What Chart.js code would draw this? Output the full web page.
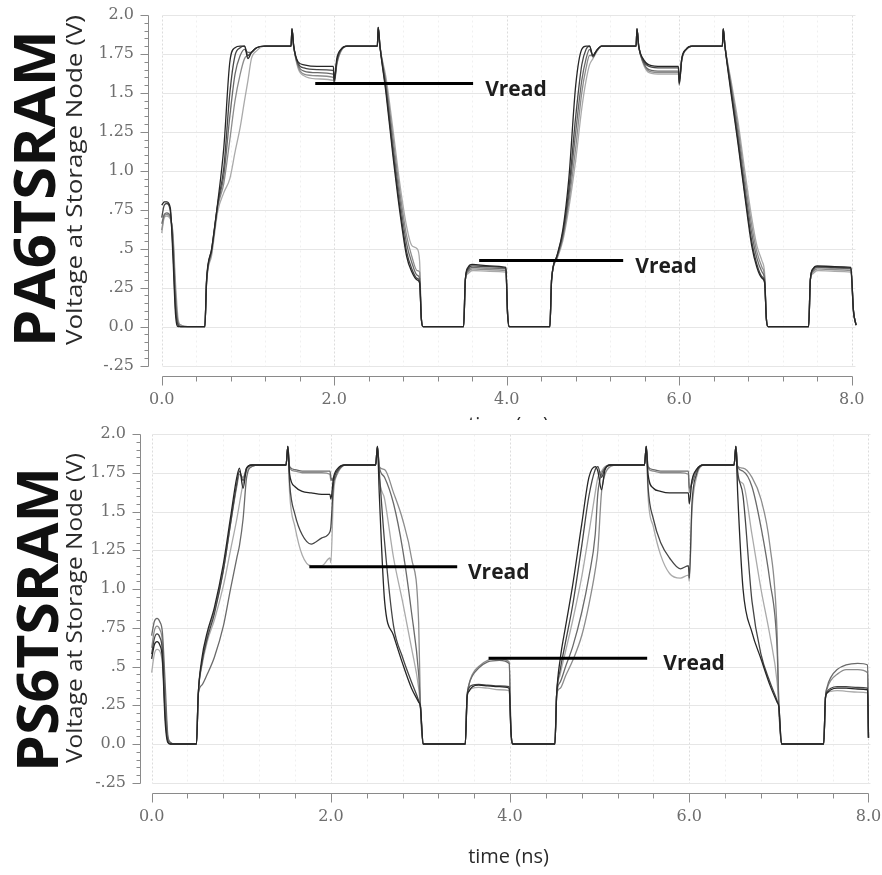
<!DOCTYPE html>
<html>
<head>
<meta charset="utf-8">
<script src="https://cdn.jsdelivr.net/npm/chart.js@4.4.1/dist/chart.umd.min.js"></script>
<style>
  html, body { margin: 0; padding: 0; background: #fff; }
  body { width: 882px; height: 875px; position: relative; overflow: hidden; }
  canvas { position: absolute; left: 0; background: #fff; }
  #topChart { top: 0; }
  #bottomChart { top: 420px; }
</style>
</head>
<body>
<canvas id="topChart" width="882" height="440"></canvas>
<canvas id="bottomChart" width="882" height="455"></canvas>
<script>
// ---- axis ticks (both panels) ----
var yTickValues = [-0.25, 0, 0.25, 0.5, 0.75, 1.0, 1.25, 1.5, 1.75, 2.0];
var yTickLabels = ['-.25', '0.0', '.25', '.5', '.75', '1.0', '1.25', '1.5', '1.75', '2.0'];
var xTickValues = [0, 2, 4, 6, 8];
var xTickLabels = ['0.0', '2.0', '4.0', '6.0', '8.0'];

// ---- PA6TSRAM (top panel), time in ns, voltage in V ----
var paTime = [
  0, 0.03, 0.06, 0.1, 0.13, 0.16, 0.19, 0.22, 0.3, 0.5,
  0.52, 0.58, 0.65, 0.72, 0.79, 0.85, 0.91, 0.96, 1.0, 1.04, 1.1, 1.2,
  1.5, 1.51, 1.53, 1.58, 1.65, 1.8, 1.99, 2.0, 2.03, 2.08, 2.15,
  2.5, 2.51, 2.53, 2.6, 2.68, 2.76, 2.84, 2.9, 2.96, 2.99, 3.01, 3.03,
  3.5, 3.52, 3.55, 3.6, 3.8, 3.99, 4.01, 4.03,
  4.5, 4.52, 4.58, 4.65, 4.72, 4.8, 4.87, 4.92, 4.96, 5.0, 5.04, 5.1,
  5.5, 5.51, 5.53, 5.58, 5.65, 5.8, 5.99, 6.0, 6.03, 6.08, 6.15,
  6.5, 6.51, 6.53, 6.6, 6.68, 6.76, 6.84, 6.9, 6.96, 6.99, 7.01, 7.03,
  7.5, 7.52, 7.55, 7.6, 7.8, 7.99, 8.02, 8.05
];
var pa1 = [
  0.78, 0.80, 0.80, 0.76, 0.45, 0.08, 0.0, 0.0, 0.0, 0.0,
  0.30, 0.50, 0.80, 1.15, 1.70, 1.79, 1.80, 1.80, 1.72, 1.76, 1.79, 1.80,
  1.80, 1.91, 1.80, 1.70, 1.68, 1.67, 1.67, 1.58, 1.72, 1.78, 1.80,
  1.80, 1.92, 1.80, 1.50, 1.10, 0.74, 0.45, 0.35, 0.30, 0.28, 0.05, 0.0,
  0.0, 0.30, 0.38, 0.40, 0.39, 0.38, 0.08, 0.0,
  0.0, 0.30, 0.45, 0.62, 0.95, 1.55, 1.78, 1.80, 1.80, 1.74, 1.77, 1.80,
  1.80, 1.91, 1.80, 1.72, 1.68, 1.67, 1.67, 1.56, 1.72, 1.78, 1.80,
  1.80, 1.91, 1.80, 1.50, 1.18, 0.84, 0.52, 0.38, 0.31, 0.28, 0.05, 0.0,
  0.0, 0.30, 0.37, 0.39, 0.385, 0.38, 0.10, 0.01
];
var pa2 = [
  0.70, 0.78, 0.79, 0.74, 0.50, 0.12, 0.01, 0.0, 0.0, 0.0,
  0.29, 0.50, 0.79, 1.02, 1.50, 1.74, 1.79, 1.80, 1.74, 1.76, 1.79, 1.80,
  1.80, 1.91, 1.80, 1.69, 1.66, 1.65, 1.645, 1.57, 1.70, 1.78, 1.80,
  1.80, 1.92, 1.80, 1.52, 1.13, 0.77, 0.48, 0.37, 0.31, 0.29, 0.05, 0.0,
  0.0, 0.30, 0.37, 0.39, 0.385, 0.375, 0.08, 0.0,
  0.0, 0.30, 0.45, 0.60, 0.88, 1.35, 1.68, 1.78, 1.80, 1.73, 1.77, 1.80,
  1.80, 1.91, 1.80, 1.71, 1.67, 1.66, 1.66, 1.58, 1.72, 1.78, 1.80,
  1.80, 1.91, 1.80, 1.52, 1.20, 0.86, 0.55, 0.40, 0.32, 0.29, 0.05, 0.0,
  0.0, 0.30, 0.37, 0.385, 0.38, 0.375, 0.10, 0.01
];
var pa3 = [
  0.66, 0.72, 0.73, 0.71, 0.55, 0.18, 0.02, 0.0, 0.0, 0.0,
  0.29, 0.49, 0.78, 0.97, 1.35, 1.62, 1.74, 1.78, 1.76, 1.76, 1.79, 1.80,
  1.80, 1.91, 1.80, 1.68, 1.64, 1.63, 1.62, 1.58, 1.70, 1.78, 1.80,
  1.80, 1.92, 1.80, 1.55, 1.17, 0.82, 0.53, 0.41, 0.33, 0.31, 0.05, 0.0,
  0.0, 0.30, 0.36, 0.38, 0.375, 0.37, 0.08, 0.0,
  0.0, 0.30, 0.44, 0.58, 0.84, 1.25, 1.58, 1.72, 1.78, 1.74, 1.77, 1.80,
  1.80, 1.91, 1.80, 1.70, 1.65, 1.64, 1.64, 1.55, 1.72, 1.78, 1.80,
  1.80, 1.91, 1.80, 1.54, 1.24, 0.90, 0.60, 0.44, 0.35, 0.30, 0.05, 0.0,
  0.0, 0.30, 0.36, 0.38, 0.375, 0.37, 0.10, 0.01
];
var pa4 = [
  0.62, 0.71, 0.72, 0.70, 0.58, 0.22, 0.03, 0.01, 0.0, 0.0,
  0.28, 0.48, 0.77, 0.92, 1.20, 1.45, 1.62, 1.72, 1.74, 1.76, 1.79, 1.80,
  1.80, 1.91, 1.80, 1.67, 1.62, 1.61, 1.60, 1.56, 1.68, 1.77, 1.80,
  1.80, 1.92, 1.80, 1.57, 1.22, 0.87, 0.58, 0.45, 0.36, 0.35, 0.05, 0.0,
  0.0, 0.30, 0.35, 0.37, 0.365, 0.36, 0.08, 0.0,
  0.0, 0.30, 0.44, 0.57, 0.80, 1.15, 1.50, 1.66, 1.74, 1.74, 1.77, 1.80,
  1.80, 1.91, 1.80, 1.70, 1.64, 1.63, 1.63, 1.60, 1.72, 1.78, 1.80,
  1.80, 1.91, 1.80, 1.56, 1.28, 0.95, 0.65, 0.48, 0.38, 0.32, 0.05, 0.0,
  0.0, 0.30, 0.35, 0.37, 0.365, 0.36, 0.10, 0.01
];
var pa5 = [
  0.60, 0.70, 0.71, 0.69, 0.60, 0.28, 0.05, 0.01, 0.0, 0.0,
  0.28, 0.46, 0.74, 0.86, 0.95, 1.12, 1.28, 1.45, 1.58, 1.72, 1.77, 1.80,
  1.80, 1.91, 1.80, 1.66, 1.61, 1.59, 1.58, 1.57, 1.69, 1.77, 1.80,
  1.80, 1.92, 1.80, 1.60, 1.27, 0.92, 0.64, 0.52, 0.50, 0.42, 0.05, 0.0,
  0.0, 0.30, 0.34, 0.36, 0.355, 0.35, 0.08, 0.0,
  0.0, 0.30, 0.43, 0.55, 0.76, 1.07, 1.40, 1.58, 1.68, 1.72, 1.76, 1.80,
  1.80, 1.91, 1.80, 1.69, 1.63, 1.62, 1.62, 1.57, 1.71, 1.78, 1.80,
  1.80, 1.91, 1.80, 1.58, 1.32, 1.00, 0.70, 0.52, 0.42, 0.34, 0.05, 0.0,
  0.0, 0.30, 0.34, 0.36, 0.355, 0.35, 0.10, 0.01
];
// Vread markers on the top panel
var paVreadLevel = [1.56, 0.424];
var paVreadStart = [1.78, 3.68];
var paVreadEnd = [3.61, 5.35];
var paVreadTextAt = [3.75, 5.49];

// ---- PS6TSRAM (bottom panel) ----
var psTime = [
  0, 0.03, 0.06, 0.09, 0.12, 0.15, 0.18, 0.21, 0.25, 0.5,
  0.52, 0.56, 0.62, 0.7, 0.8, 0.88, 0.95, 0.98, 1.02, 1.06, 1.12, 1.2,
  1.5, 1.52, 1.54, 1.6, 1.68, 1.78, 1.9, 1.99, 2.0, 2.03, 2.08, 2.16,
  2.5, 2.52, 2.54, 2.6, 2.7, 2.8, 2.9, 2.98, 3.0, 3.03,
  3.5, 3.52, 3.54, 3.58, 3.65, 3.75, 3.88, 3.99, 4.01, 4.03,
  4.5, 4.52, 4.56, 4.62, 4.7, 4.8, 4.88, 4.95, 4.98, 5.02, 5.06, 5.12, 5.2,
  5.5, 5.52, 5.54, 5.6, 5.68, 5.78, 5.9, 5.99, 6.0, 6.03, 6.08, 6.16,
  6.5, 6.52, 6.54, 6.6, 6.7, 6.8, 6.9, 6.98, 7.0, 7.03,
  7.5, 7.52, 7.54, 7.58, 7.65, 7.75, 7.88, 7.99, 8.0
];
var ps1 = [
  0.55, 0.64, 0.66, 0.64, 0.55, 0.15, 0.01, 0.0, 0.0, 0.0,
  0.32, 0.55, 0.72, 0.88, 1.16, 1.46, 1.72, 1.78, 1.65, 1.78, 1.80, 1.80,
  1.80, 1.92, 1.74, 1.66, 1.63, 1.62, 1.61, 1.61, 1.58, 1.72, 1.78, 1.80,
  1.80, 1.92, 1.62, 0.92, 0.70, 0.52, 0.36, 0.27, 0.24, 0.0,
  0.0, 0.30, 0.34, 0.37, 0.38, 0.375, 0.37, 0.36, 0.08, 0.0,
  0.0, 0.32, 0.55, 0.76, 1.03, 1.42, 1.72, 1.79, 1.76, 1.64, 1.77, 1.80, 1.80,
  1.80, 1.92, 1.74, 1.65, 1.63, 1.62, 1.62, 1.62, 1.55, 1.70, 1.77, 1.80,
  1.80, 1.92, 1.62, 1.00, 0.72, 0.55, 0.38, 0.27, 0.24, 0.0,
  0.0, 0.30, 0.33, 0.35, 0.36, 0.36, 0.355, 0.35, 0.04
];
var ps2 = [
  0.58, 0.68, 0.71, 0.69, 0.60, 0.20, 0.02, 0.0, 0.0, 0.0,
  0.32, 0.52, 0.68, 0.84, 1.12, 1.42, 1.68, 1.76, 1.70, 1.78, 1.80, 1.80,
  1.80, 1.92, 1.68, 1.48, 1.35, 1.29, 1.33, 1.37, 1.40, 1.68, 1.77, 1.80,
  1.80, 1.92, 1.76, 1.30, 0.76, 0.56, 0.40, 0.28, 0.24, 0.0,
  0.0, 0.30, 0.36, 0.38, 0.385, 0.38, 0.375, 0.37, 0.08, 0.0,
  0.0, 0.32, 0.48, 0.66, 0.90, 1.28, 1.60, 1.77, 1.79, 1.72, 1.78, 1.80, 1.80,
  1.80, 1.92, 1.66, 1.45, 1.30, 1.20, 1.13, 1.15, 1.07, 1.55, 1.74, 1.80,
  1.80, 1.92, 1.76, 1.60, 0.92, 0.58, 0.40, 0.28, 0.24, 0.0,
  0.0, 0.30, 0.34, 0.36, 0.37, 0.37, 0.365, 0.36, 0.04
];
var ps3 = [
  0.70, 0.79, 0.81, 0.79, 0.72, 0.40, 0.06, 0.01, 0.0, 0.0,
  0.32, 0.38, 0.45, 0.56, 0.76, 1.00, 1.20, 1.28, 1.45, 1.72, 1.79, 1.80,
  1.80, 1.92, 1.79, 1.77, 1.76, 1.76, 1.76, 1.76, 1.72, 1.70, 1.76, 1.80,
  1.80, 1.92, 1.79, 1.72, 1.55, 1.26, 0.85, 0.45, 0.24, 0.0,
  0.0, 0.30, 0.38, 0.44, 0.49, 0.53, 0.54, 0.52, 0.08, 0.0,
  0.0, 0.32, 0.40, 0.50, 0.63, 0.85, 1.08, 1.35, 1.62, 1.74, 1.78, 1.80, 1.80,
  1.80, 1.92, 1.79, 1.77, 1.76, 1.76, 1.76, 1.76, 1.65, 1.68, 1.76, 1.80,
  1.80, 1.92, 1.79, 1.76, 1.66, 1.40, 1.05, 0.62, 0.24, 0.0,
  0.0, 0.30, 0.37, 0.43, 0.48, 0.51, 0.52, 0.51, 0.04
];
var ps4 = [
  0.62, 0.73, 0.76, 0.74, 0.66, 0.30, 0.04, 0.01, 0.0, 0.0,
  0.32, 0.52, 0.70, 0.86, 1.12, 1.42, 1.66, 1.74, 1.72, 1.78, 1.80, 1.80,
  1.80, 1.92, 1.78, 1.76, 1.75, 1.75, 1.75, 1.74, 1.70, 1.72, 1.77, 1.80,
  1.80, 1.92, 1.79, 1.77, 1.62, 1.45, 1.20, 0.78, 0.24, 0.0,
  0.0, 0.30, 0.38, 0.45, 0.50, 0.54, 0.55, 0.53, 0.08, 0.0,
  0.0, 0.32, 0.36, 0.44, 0.54, 0.70, 0.90, 1.12, 1.25, 1.62, 1.74, 1.79, 1.80,
  1.80, 1.92, 1.78, 1.76, 1.75, 1.75, 1.75, 1.74, 1.62, 1.70, 1.77, 1.80,
  1.80, 1.92, 1.79, 1.78, 1.72, 1.58, 1.28, 0.72, 0.24, 0.0,
  0.0, 0.30, 0.36, 0.41, 0.45, 0.48, 0.48, 0.46, 0.04
];
var ps5 = [
  0.46, 0.58, 0.61, 0.60, 0.52, 0.25, 0.03, 0.0, 0.0, 0.0,
  0.32, 0.50, 0.66, 0.80, 1.02, 1.25, 1.45, 1.55, 1.68, 1.76, 1.79, 1.80,
  1.80, 1.92, 1.62, 1.40, 1.22, 1.15, 1.15, 1.20, 1.17, 1.62, 1.75, 1.80,
  1.80, 1.92, 1.72, 1.58, 1.20, 0.92, 0.62, 0.36, 0.24, 0.0,
  0.0, 0.30, 0.34, 0.36, 0.365, 0.36, 0.35, 0.345, 0.08, 0.0,
  0.0, 0.32, 0.45, 0.60, 0.80, 1.08, 1.36, 1.62, 1.72, 1.76, 1.79, 1.80, 1.80,
  1.80, 1.92, 1.60, 1.40, 1.22, 1.10, 1.07, 1.09, 1.05, 1.50, 1.72, 1.80,
  1.80, 1.92, 1.72, 1.68, 1.35, 1.00, 0.70, 0.40, 0.24, 0.0,
  0.0, 0.30, 0.33, 0.34, 0.345, 0.34, 0.335, 0.33, 0.04
];
var psVreadLevel = [1.144, 0.553];
var psVreadStart = [1.76, 3.76];
var psVreadEnd = [3.41, 5.53];
var psVreadTextAt = [3.53, 5.71];

var traceColors = ['#262626', '#464646', '#6a6a6a', '#8c8c8c', '#aaaaaa'];

Chart.defaults.font.family = "'Open Sans', sans-serif";

function traceSets(time, series) {
    return series.map(function(vals, i) {
        return {
            data: vals.map(function(v, k) { return { x: time[k], y: v }; }),
            borderColor: traceColors[i],
            borderWidth: 1.3,
            pointRadius: 0,
            cubicInterpolationMode: 'monotone',
            fill: false
        };
    });
}

function vreadSets(start, end, level) {
    return level.map(function(v, i) {
        return {
            data: [{ x: start[i], y: v }, { x: end[i], y: v }],
            borderColor: '#000',
            borderWidth: 3,
            pointRadius: 0
        };
    });
}

// text drawn along the rotated axis, stretched to a given length
function drawRotated(ctx, text, font, color, cx, baseX, len) {
    ctx.save();
    ctx.font = font;
    var w = ctx.measureText(text).width;
    ctx.translate(baseX, cx);
    ctx.rotate(-Math.PI / 2);
    ctx.scale(len / w, 1);
    ctx.textAlign = 'center';
    ctx.textBaseline = 'alphabetic';
    ctx.fillStyle = color;
    ctx.fillText(text, 0, 0);
    ctx.restore();
}

// draws grid, offset axes and tick marks (Origin style)
var scopeFrame = {
    id: 'scopeFrame',
    beforeDatasetsDraw: function(chart, args, opts) {
        var ctx = chart.ctx;
        var xs = chart.scales.x, ys = chart.scales.y, a = chart.chartArea;
        var px = function(v) { return Math.round(xs.getPixelForValue(v)) + 0.5; };
        var py = function(v) { return Math.round(ys.getPixelForValue(v)) + 0.5; };
        var yTop = py(2.0), yBot = py(-0.25);
        var k;
        ctx.save();
        ctx.lineWidth = 1;

        // faint minor verticals
        ctx.strokeStyle = '#f0f0f0';
        ctx.setLineDash([2, 3]);
        for (k = 1; k < 21; k++) {
            if (k % 5 === 0) continue;
            ctx.beginPath(); ctx.moveTo(px(k * 0.4), yTop); ctx.lineTo(px(k * 0.4), yBot); ctx.stroke();
        }
        // major verticals
        ctx.strokeStyle = '#dcdcdc';
        ctx.setLineDash([2, 2]);
        xTickValues.forEach(function(t) {
            ctx.beginPath(); ctx.moveTo(px(t), yTop); ctx.lineTo(px(t), yBot); ctx.stroke();
        });
        // horizontal grid
        ctx.setLineDash([]);
        ctx.strokeStyle = '#e6e6e6';
        yTickValues.forEach(function(v) {
            ctx.beginPath(); ctx.moveTo(px(0), py(v)); ctx.lineTo(px(opts.gridEnd), py(v)); ctx.stroke();
        });

        // axes
        ctx.strokeStyle = '#8a8a8a';
        var ax = Math.round(a.left) + 0.5;
        var ay = Math.round(a.bottom) + 0.5;
        ctx.beginPath(); ctx.moveTo(ax, yTop); ctx.lineTo(ax, yBot); ctx.stroke();
        ctx.beginPath(); ctx.moveTo(px(0), ay); ctx.lineTo(px(opts.axisEnd), ay); ctx.stroke();

        // y ticks: majors every .25, minors every .05
        for (k = -5; k <= 40; k++) {
            var y = py(k * 0.05);
            var len = (k % 5 === 0) ? 8 : 4;
            ctx.beginPath(); ctx.moveTo(ax - len, y); ctx.lineTo(ax, y); ctx.stroke();
        }
        // x ticks: majors every 2, minors every .4
        for (k = 0; k <= 20; k++) {
            var x = px(k * 0.4);
            var xl = (k % 5 === 0) ? 9 : 5;
            ctx.beginPath(); ctx.moveTo(x, ay); ctx.lineTo(x, ay + xl); ctx.stroke();
        }
        ctx.restore();
    },
    afterDatasetsDraw: function(chart, args, opts) {
        var ctx = chart.ctx;
        var xs = chart.scales.x, ys = chart.scales.y;
        ctx.save();
        // Vread labels
        ctx.fillStyle = '#1e1e1e';
        ctx.font = "bold 21px 'Open Sans'";
        ctx.textAlign = 'left';
        ctx.textBaseline = 'alphabetic';
        opts.vreadText.forEach(function(t, i) {
            ctx.fillText('Vread', xs.getPixelForValue(t), ys.getPixelForValue(opts.vreadLevel[i]) + 12);
        });
        ctx.restore();

        drawRotated(ctx, opts.name, "bold 58px 'Open Sans'", '#111', opts.nameY, opts.nameX, opts.nameLen);
        drawRotated(ctx, 'Voltage at Storage Node (V)', "21px 'Open Sans'", '#2a2a2a', opts.yTitleY, 82, opts.yTitleLen);
    }
};

function buildOptions(cfg) {
    return {
        responsive: false,
        animation: false,
        events: [],
        layout: { padding: { top: cfg.padTop, right: cfg.padRight, left: 0, bottom: 0 } },
        plugins: {
            legend: { display: false },
            tooltip: { enabled: false },
            scopeFrame: cfg.frame
        },
        scales: {
            x: {
                type: 'linear',
                min: cfg.xMin,
                max: cfg.xMax,
                afterBuildTicks: function(s) {
                    s.ticks = xTickValues.map(function(v) { return { value: v }; });
                },
                afterFit: function(s) {
                    s.height = cfg.xAxisHeight;
                    s.paddingLeft = 0; s.paddingRight = 0;
                },
                grid: { display: false, drawTicks: false },
                border: { display: false },
                ticks: {
                    autoSkip: false,
                    maxRotation: 0,
                    padding: 14,
                    color: '#6e6e6e',
                    font: { family: "'DejaVu Serif'", size: 16 },
                    callback: function(v, i) { return xTickLabels[i]; }
                },
                title: {
                    display: true,
                    text: 'time (ns)',
                    color: '#2a2a2a',
                    font: { size: 20 },
                    padding: { top: 0, bottom: cfg.titlePad }
                }
            },
            y: {
                type: 'linear',
                min: cfg.yMin,
                max: 2.0,
                afterBuildTicks: function(s) {
                    s.ticks = yTickValues.map(function(v) { return { value: v }; });
                },
                afterFit: function(s) {
                    s.width = cfg.yAxisWidth;
                    s.paddingTop = 0; s.paddingBottom = 0;
                },
                grid: { display: false, drawTicks: false },
                border: { display: false },
                ticks: {
                    autoSkip: false,
                    padding: 14,
                    color: '#6e6e6e',
                    font: { family: "'DejaVu Serif'", size: 16 },
                    callback: function(v, i) { return yTickLabels[i]; }
                }
            }
        }
    };
}

new Chart(document.getElementById('topChart'), {
    type: 'line',
    data: {
        datasets: vreadSets(paVreadStart, paVreadEnd, paVreadLevel)
            .concat(traceSets(paTime, [pa1, pa2, pa3, pa4, pa5]))
    },
    options: buildOptions({
        padTop: 15, padRight: 13,
        xMin: -0.159, xMax: 8.2, yMin: -0.317,
        xAxisHeight: 64, yAxisWidth: 148, titlePad: 3,
        frame: {
            gridEnd: 8.04, axisEnd: 8.0,
            vreadText: paVreadTextAt, vreadLevel: paVreadLevel,
            name: 'PA6TSRAM', nameX: 55, nameY: 188.5, nameLen: 317,
            yTitleY: 180, yTitleLen: 330
        }
    }),
    plugins: [scopeFrame]
});

new Chart(document.getElementById('bottomChart'), {
    type: 'line',
    data: {
        datasets: vreadSets(psVreadStart, psVreadEnd, psVreadLevel)
            .concat(traceSets(psTime, [ps1, ps2, ps3, ps4, ps5]))
    },
    options: buildOptions({
        padTop: 14, padRight: 5,
        xMin: -0.13, xMax: 8.095, yMin: -0.316,
        xAxisHeight: 82, yAxisWidth: 140, titlePad: 6,
        frame: {
            gridEnd: 8.02, axisEnd: 8.0,
            vreadText: psVreadTextAt, vreadLevel: psVreadLevel,
            name: 'PS6TSRAM', nameX: 58, nameY: 199.5, nameLen: 305,
            yTitleY: 188, yTitleLen: 310
        }
    }),
    plugins: [scopeFrame]
});
</script>
</body>
</html>
